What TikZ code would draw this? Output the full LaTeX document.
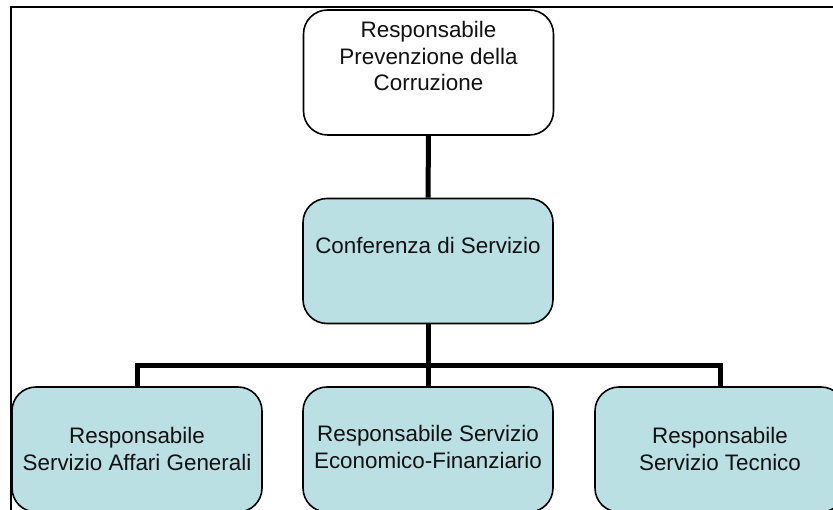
\documentclass[tikz,border=0pt]{standalone}
\usepackage{fontspec}
\setmainfont{Liberation Sans}
\definecolor{boxfill}{RGB}{187,224,227}
\definecolor{txt}{RGB}{17,17,17}
\tikzset{
  orgbox/.style={draw=black, line width=1.6pt, rounded corners=24pt, minimum width=250pt, minimum height=125pt, inner sep=0pt},
  cyanbox/.style={orgbox, fill=boxfill},
  whitebox/.style={orgbox, fill=white},
  boxtext/.style={align=center, text=txt, font=\fontsize{22.4}{26.8}\selectfont, inner sep=0pt},
  conn/.style={draw=black, line width=5pt},
  frame/.style={draw=black, line width=1.8pt}
}
\begin{document}
\begin{tikzpicture}[x=1pt,y=-1pt]
\useasboundingbox (0,0) rectangle (833,510);
\clip (0,0) rectangle (833,510);
\fill[white] (0,0) rectangle (833,510);
\draw[frame] (11,7) rectangle (900,600);
% boxes
\node[whitebox] (top) at (428.5,72.5) {};
\node[cyanbox] (mid) at (428,261) {};
\node[cyanbox] (left) at (137,449.5) {};
\node[cyanbox] (center) at (428,449.5) {};
\node[cyanbox] (right) at (720,449.5) {};
% texts
\node[boxtext] (ttop) at (428.5,56) {Responsabile\\Prevenzione della\\Corruzione};
\node[boxtext] (tmid) at (428,245) {Conferenza di Servizio};
\node[boxtext] (tleft) at (137,449) {Responsabile\\Servizio Affari Generali};
\node[boxtext] (tcenter) at (428,447) {Responsabile Servizio\\Economico-Finanziario};
\node[boxtext] (tright) at (720,449) {Responsabile\\Servizio Tecnico};
% connectors
\coordinate (bus) at (428,366);
\draw[conn] (top.south) -- (mid.north);
\draw[conn] (mid.south) -- (bus);
\draw[conn] (left.north) -- (left.north |- bus) -- (right.north |- bus) -- (right.north);
\draw[conn] (bus) -- (center.north);
\end{tikzpicture}
\end{document}
